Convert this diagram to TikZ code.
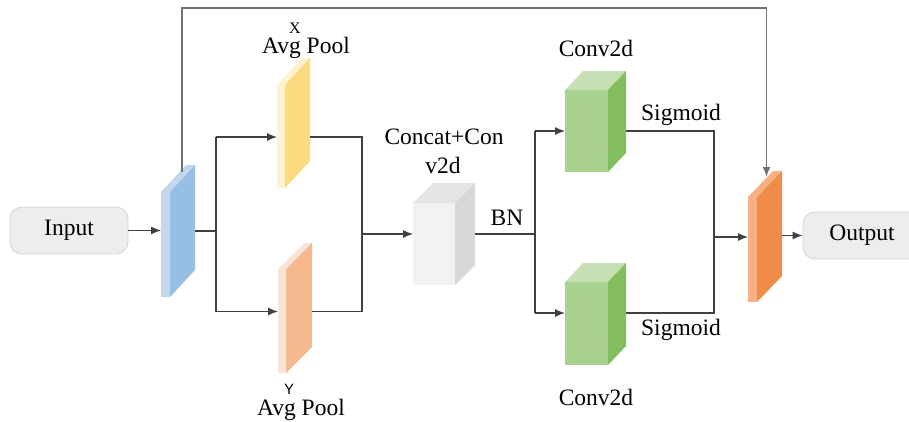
\documentclass[tikz,border=0pt]{standalone}
\usepackage{fontspec}
\setmainfont{Liberation Serif}
\newfontfamily\serf{Liberation Serif}
\newfontfamily\sansf{Liberation Sans}
\usetikzlibrary{arrows.meta,calc}
\definecolor{lineC}{HTML}{404040}
\definecolor{skipC}{HTML}{707070}
\definecolor{boxF}{HTML}{EDEDED}
\definecolor{boxD}{HTML}{D4D4D4}
\definecolor{blueL}{HTML}{C2D8EF}
\definecolor{blueD}{HTML}{97BEE4}
\definecolor{yelL}{HTML}{FFF2CE}
\definecolor{yelD}{HTML}{FCDA80}
\definecolor{peaL}{HTML}{F9E4D8}
\definecolor{peaD}{HTML}{F5B88F}
\definecolor{oraL}{HTML}{F5B183}
\definecolor{oraD}{HTML}{EF8C48}
\definecolor{grnF}{HTML}{A9D18E}
\definecolor{grnT}{HTML}{C6E0B5}
\definecolor{grnS}{HTML}{82BD5E}
\definecolor{gryF}{HTML}{F2F2F2}
\definecolor{gryT}{HTML}{E4E4E4}
\definecolor{gryS}{HTML}{D8D8D8}
% name, x, ytop, w, h, dx, dy, front, top
\newcommand\prism[9]{%
  \node[name=#1, anchor=north west, inner sep=0pt, outer sep=0pt,
        minimum width=#4pt, minimum height=#5pt, fill=#8] at (#2,#3) {};
  \fill[#9] (#2,#3) -- ({#2+#6},{#3-#7}) -- ({#2+#4+#6},{#3-#7}) -- ({#2+#4},#3) -- cycle;
  \coordinate (#1r) at ({#2+#4+#6},#3);
}
\newcommand\sideface[7]{% x, ytop, w, h, dx, dy, color
  \fill[#7] ({#1+#3},#2) -- ({#1+#3+#5},{#2-#6}) -- ({#1+#3+#5},{#2+#4-#6}) -- ({#1+#3},{#2+#4}) -- cycle;
}
\tikzset{
  x=1pt, y=-1pt,
  ln/.style={draw=lineC, line width=1.2pt},
  arr/.style={ln, -{Latex[length=10pt,width=8pt]}},
  skipln/.style={draw=skipC, line width=1.8pt},
  io/.style={draw=boxD, fill=boxF, rounded corners=12pt, line width=0.8pt,
    minimum width=118pt, minimum height=47pt, inner sep=0pt},
  lbl/.style={font=\serf\fontsize{23.5}{28}\selectfont, inner sep=0pt},
  sml/.style={font=\serf\fontsize{16}{18}\selectfont, inner sep=0pt},
}
\begin{document}
\begin{tikzpicture}
\useasboundingbox (0,0) rectangle (909,421);
% input / output boxes
\node[io] (in) at (69,230.5) {};
\node[lbl] at (in.center) {Input};
\node[io] (out) at (862,235.5) {};
\node[lbl] at (out.center) {Output};
% slabs and boxes
\prism{b1}{161}{192}{9}{105}{25}{27}{blueL}{blueL}
\sideface{161}{192}{9}{105}{25}{27}{blueD}
\prism{yx}{277}{85}{8}{103}{25}{27}{yelL}{yelL}
\sideface{277}{85}{8}{103}{25}{27}{yelD}
\prism{yy}{278}{269}{8}{104}{26}{26}{peaL}{peaL}
\sideface{278}{269}{8}{104}{26}{26}{peaD}
\prism{cc}{413}{203}{42}{82}{20}{20}{gryF}{gryT}
\sideface{413}{203}{42}{82}{20}{20}{gryS}
\prism{g1}{565}{90}{43}{82}{18}{19}{grnF}{grnT}
\sideface{565}{90}{43}{82}{18}{19}{grnS}
\prism{g2}{565}{282}{43}{83}{18}{19}{grnF}{grnT}
\sideface{565}{282}{43}{83}{18}{19}{grnS}
\prism{oo}{748}{197}{9}{105}{25}{26}{oraL}{oraL}
\sideface{748}{197}{9}{105}{25}{26}{oraD}
% junction coordinates
\coordinate (s1) at (216,231);
\coordinate (s1t) at (216,137);
\coordinate (s1b) at (216,311.5);
\coordinate (m1t) at (362,137);
\coordinate (m1b) at (362,311.5);
\coordinate (m1) at (362,234);
\coordinate (s2) at (535,234);
\coordinate (s2t) at (535,131);
\coordinate (s2b) at (535,313);
\coordinate (m2t) at (714,131);
\coordinate (m2b) at (714,313);
\coordinate (m2) at (714,237);
\coordinate (k1) at (182,172);
\coordinate (k2) at (182,8);
\coordinate (k3) at (766.5,8);
\coordinate (k4) at (766.5,177);
% connectors
\draw[arr] (in.east) -- (in.east -| b1.west);
\draw[ln] (b1r |- s1) -- (s1);
\draw[ln] (s1t) -- (s1b);
\draw[arr] (s1t) -- (s1t -| yx.west);
\draw[arr] (s1b) -- (s1b -| yy.west);
\draw[ln] (yxr |- m1t) -- (m1t) -- (m1b) -- (yyr |- m1b);
\draw[arr] (m1) -- (m1 -| cc.west);
\draw[ln] (ccr |- s2) -- (s2);
\draw[ln] (s2t) -- (s2b);
\draw[arr] (s2t) -- (s2t -| g1.west);
\draw[arr] (s2b) -- (s2b -| g2.west);
\draw[ln] (g1r |- m2t) -- (m2t) -- (m2b) -- (g2r |- m2b);
\draw[arr] (m2) -- (m2 -| oo.west);
\draw[arr] (oor |- out.west) -- (out.west);
\draw[skipln] (k1) -- (k2) -- (k3);
\draw[skipln, -{Latex[length=10pt,width=8pt]}] (k3) -- (k4);
% labels
\node[sml] (lx) at (295,28) {X};
\node[lbl] (lxa) at (306,48) {Avg Pool};
\node[sml, font=\sansf\fontsize{15}{18}\selectfont] (ly) at (289,389) {Y};
\node[lbl] (lya) at (301,410) {Avg Pool};
\node[lbl] (lc1) at (444,137) {Concat+Con};
\node[lbl] (lc2) at (443,165) {v2d};
\node[lbl] (lbn) at (507,218) {BN};
\node[lbl] (lg1) at (596,48) {Conv2d};
\node[lbl] (lg2) at (596,397) {Conv2d};
\node[lbl] (ls1) at (681,115) {Sigmoid};
\node[lbl] (ls2) at (681,330) {Sigmoid};
\end{tikzpicture}
\end{document}
